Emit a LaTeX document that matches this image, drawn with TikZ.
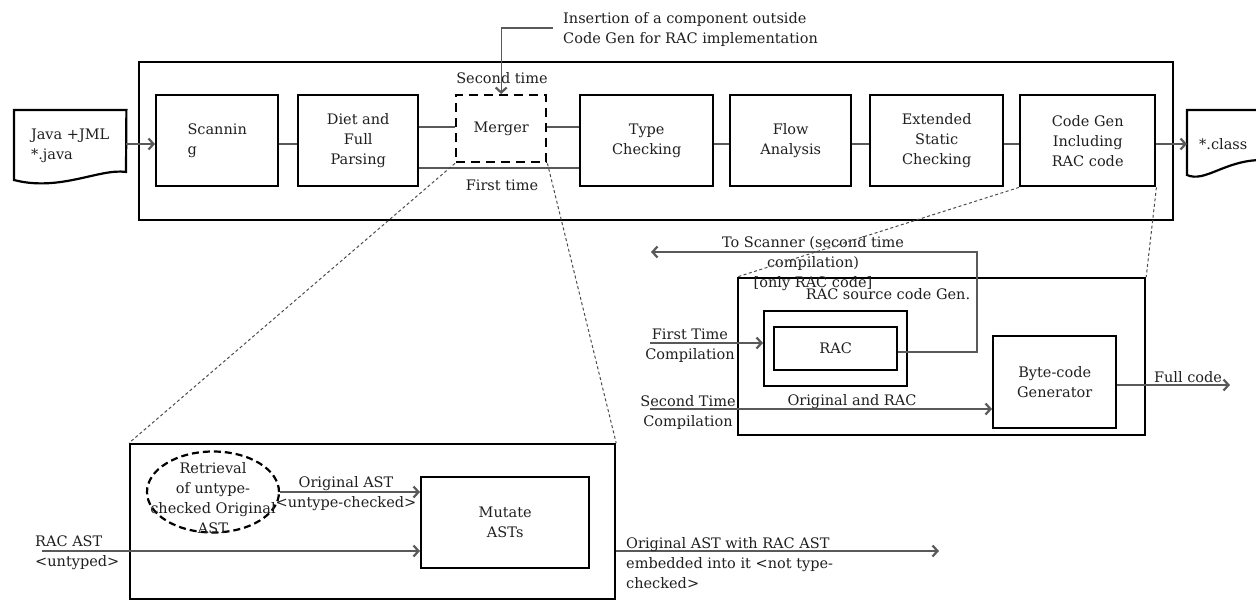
\documentclass[tikz,border=0pt]{standalone}
\usepackage{fontspec}
\setmainfont{DejaVu Serif}
\usetikzlibrary{arrows.meta,shapes.geometric,calc}
\begin{document}
\begin{tikzpicture}[x=1pt,y=-1pt,
  txt/.style={font=\fontsize{14.5}{20}\selectfont, text=black!88, inner sep=0pt, align=center},
  blk/.style={txt, draw=black, line width=2.4pt, anchor=north west, rectangle},
  frame/.style={draw=black, line width=2.2pt, anchor=north west, rectangle, inner sep=0pt},
  dbox/.style={blk, dash pattern=on 9pt off 6pt},
  conn/.style={line width=1.1pt, draw=black!65},
  arr/.style={conn, -{Straight Barb[length=5pt,width=11pt,line width=2.2pt]}},
  zoomln/.style={line width=1pt, draw=black!70, dash pattern=on 3pt off 2.5pt},
  ell/.style={ellipse, draw=black, line width=2.2pt, dash pattern=on 7pt off 4pt, inner sep=0pt}
]
\useasboundingbox (0,0) rectangle (1256,600);
\clip (0,0) rectangle (1256,600);

% ---------- top row ----------
\node[frame, minimum width=1034pt, minimum height=158pt] (main) at (138,61) {};

\node[txt, align=left, anchor=north west, minimum width=112pt, minimum height=72pt] (java) at (14,110) {Java +JML\\*.java};
\draw[line width=2.2pt] (java.north west) -- (java.north east) -- (126,172)
   .. controls (100,168) and (60,192) .. (14,180) -- cycle;

\node[txt, anchor=north west, minimum width=72pt, minimum height=68pt] (cls) at (1187,110) {*.class};
\draw[line width=2.2pt] (1262,110) -- (1187,110) -- (1187,175)
   .. controls (1205,183) and (1225,160) .. (1262,160);

\node[blk, minimum width=122pt, minimum height=91pt, align=left] (scan) at (155,94) {Scannin\\g};
\node[blk, minimum width=120pt, minimum height=91pt] (diet) at (297,94) {Diet and\\Full\\Parsing};
\node[dbox, minimum width=90pt, minimum height=67pt] (merger) at (455,94) {Merger};
\node[blk, minimum width=133pt, minimum height=91pt] (type) at (579,94) {Type\\Checking};
\node[blk, minimum width=121pt, minimum height=91pt] (flow) at (729,94) {Flow\\Analysis};
\node[blk, minimum width=133pt, minimum height=91pt] (ext) at (869,94) {Extended\\Static\\Checking};
\node[blk, minimum width=135pt, minimum height=91pt] (codegen) at (1019,94) {Code Gen\\Including\\RAC code};

\coordinate (r1) at (0,144);
\coordinate (r2) at (0,127);
\coordinate (r3) at (0,168);

\draw[arr] (java.east |- r1) -- (scan.west |- r1);
\draw[conn] (scan.east |- r1) -- (diet.west |- r1);
\draw[conn] (diet.east |- r2) -- (merger.west |- r2);
\draw[conn] (merger.east |- r2) -- (type.west |- r2);
\draw[conn] (diet.east |- r3) -- (type.west |- r3);
\draw[conn] (type.east |- r1) -- (flow.west |- r1);
\draw[conn] (flow.east |- r1) -- (ext.west |- r1);
\draw[conn] (ext.east |- r1) -- (codegen.west |- r1);
\draw[arr] (codegen.east |- r1) -- (cls.west |- r1);

\node[txt] (sec) at (502,78) {Second time};
\node[txt] (fst) at (502,185) {First time};
\node[txt, align=left, anchor=west] (ins) at (563,29) {Insertion of a component outside\\Code Gen for RAC implementation};
\draw[arr] ([xshift=-10pt,yshift=1pt]ins.west) -| (merger.north);

% ---------- lower right ----------
\node[frame, minimum width=407pt, minimum height=157pt] (rhs) at (737,277) {};
\node[frame, line width=2.4pt, minimum width=143pt, minimum height=75pt] (racgen) at (763,310) {};
\node[blk, minimum width=123pt, minimum height=43pt] (rac) at (773,326) {RAC};
\node[blk, minimum width=123pt, minimum height=92pt] (byte) at (992,335) {Byte-code\\Generator};

\node[txt] (racgenl) at (888,294) {RAC source code Gen.};
\node[txt] (tosc) at (813,264) {To Scanner (second time\\compilation)\\{}[only RAC code]};
\node[txt] (ftl) at (690,346) {First Time\\Compilation};
\node[txt] (stl) at (688,412) {Second Time\\Compilation};
\node[txt] (oral) at (852,402) {Original and RAC};
\node[txt] (fcl) at (1188,377) {Full code};

\coordinate (tsc) at (651,252);
\draw[arr] (rac.east |- 0,352) -- (977,352) |- (tsc);
\coordinate (ft) at (650,343);
\draw[arr] (ft) -- (ft -| racgen.west);
\coordinate (st) at (650,409);
\draw[arr] (st) -- (st -| byte.west);
\coordinate (fc) at (1230,385);
\draw[arr] (byte.east |- fc) -- (fc);

% ---------- lower left ----------
\node[frame, minimum width=485pt, minimum height=155pt] (ll) at (129,443) {};
\node[ell, minimum width=132pt, minimum height=81pt] (ret) at (213,492) {};
\node[txt] (rett) at (213,498) {Retrieval\\of untype-\\checked Original\\AST};
\node[blk, minimum width=168pt, minimum height=91pt] (mutate) at (420,476) {Mutate\\ASTs};

\draw[arr] (ret.east) -- (ret.east -| mutate.west);
\node[txt] (oastl) at (346,494) {Original AST\\<untype-checked>};

\coordinate (ra) at (42,551);
\draw[arr] (ra) -- (ra -| mutate.west);
\node[txt, align=left, anchor=west] (racastl) at (35,553) {RAC AST\\<untyped>};

\coordinate (oa) at (939,551);
\draw[arr] (ll.east |- oa) -- (oa);
\node[txt, align=left, anchor=west] (outl) at (626,563) {Original AST with RAC AST\\embedded into it <not type-\\checked>};

% ---------- zoom lines ----------
\draw[zoomln] (merger.south west) -- (ll.north west);
\draw[zoomln] (merger.south east) -- (ll.north east);
\draw[zoomln] (codegen.south west) -- (rhs.north west);
\draw[zoomln] (codegen.south east) -- (rhs.north east);
\end{tikzpicture}
\end{document}
